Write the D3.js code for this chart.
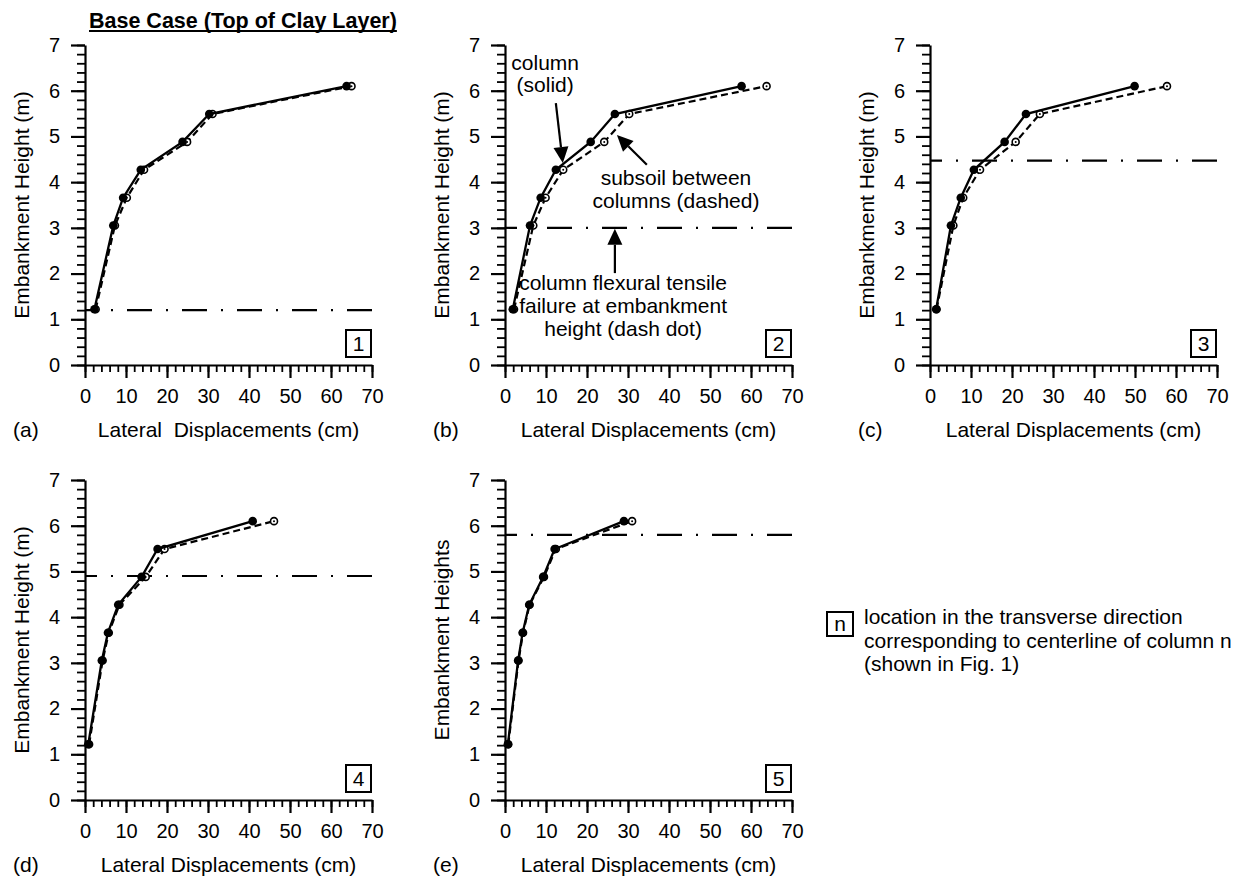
<!DOCTYPE html>
<html>
<head>
<meta charset="utf-8">
<script src="https://cdn.jsdelivr.net/npm/d3@7"></script>
<style>
  html, body { margin: 0; padding: 0; background: #fff; }
  svg text { font-family: "Liberation Sans", Arial, sans-serif; fill: #000; }
</style>
</head>
<body>
<script>
// ---------------- DATA ----------------
const heights = [1.22, 3.05, 3.66, 4.27, 4.88, 5.49, 6.10];   // embankment heights (m)

// lateral displacements (cm) at column (solid) and subsoil between columns (dashed)
const column1  = [2.3, 6.9, 9.3, 13.6, 23.8, 30.3, 63.8];
const subsoil1 = [2.6, 7.3, 10.2, 14.4, 24.9, 31.1, 65.0];
const column2  = [1.9, 6.1, 8.7, 12.4, 20.9, 26.8, 57.7];
const subsoil2 = [2.2, 6.9, 9.9, 14.2, 24.2, 30.3, 63.8];
const column3  = [1.5, 5.1, 7.5, 10.7, 18.2, 23.4, 49.9];
const subsoil3 = [1.6, 5.7, 8.1, 12.2, 20.9, 26.8, 57.8];
const column4  = [0.8, 4.1, 5.6, 8.1, 13.8, 17.7, 40.9];
const subsoil4 = [1.0, 4.3, 5.8, 8.4, 14.8, 19.4, 46.1];
const column5  = [0.7, 3.2, 4.3, 5.9, 9.3, 12.1, 29.0];
const subsoil5 = [0.8, 3.3, 4.4, 6.0, 9.5, 12.4, 31.0];

// embankment height at column flexural tensile failure (dash dot)
const failureHeights = [1.2, 3.0, 4.47, 4.9, 5.8];

const panelLetters  = ["(a)", "(b)", "(c)", "(d)", "(e)"];
const columnNumbers = ["1", "2", "3", "4", "5"];
const yTitles = ["Embankment Height (m)", "Embankment Height (m)", "Embankment Height (m)",
                 "Embankment Height (m)", "Embankment Heights"];
const xTitles = ["Lateral\u00a0 Displacements (cm)", "Lateral Displacements (cm)", "Lateral Displacements (cm)",
                 "Lateral Displacements (cm)", "Lateral Displacements (cm)"];
const xTicks = [0, 10, 20, 30, 40, 50, 60, 70];
const yTicks = [0, 1, 2, 3, 4, 5, 6, 7];
const title = "Base Case (Top of Clay Layer)";
const legendLines = ["location in the transverse direction",
                     "corresponding to centerline of column n",
                     "(shown in Fig. 1)"];

// annotations for panel (b), in data units (cm, m)
const annoTexts = [
  {lines: ["column", "(solid)"], x: 9.8, y: [6.45, 5.97]},
  {lines: ["subsoil between", "columns (dashed)"], x: 41.7, y: [3.94, 3.44]},
  {lines: ["column flexural tensile", "failure at embankment", "height (dash dot)"], x: 28.8, y: [1.64, 1.14, 0.63]}
];
const annoArrows = [
  {from: [12.4, 5.73], to: [14.1, 4.42]},
  {from: [34.6, 4.38], to: [27.3, 5.03]},
  {from: [26.8, 2.01], to: [26.8, 2.98]}
];

// ---------------- LAYOUT ----------------
const columns = [column1, column2, column3, column4, column5];
const subsoils = [subsoil1, subsoil2, subsoil3, subsoil4, subsoil5];
const origins = [[85, 45], [505, 45], [930, 45], [85, 480], [505, 480]];
const W = 287, H = 320;
const FS = 21;

const svg = d3.select("body").append("svg")
  .attr("width", 1241).attr("height", 878);

// title
const t = svg.append("text").attr("x", 89).attr("y", 28)
  .attr("font-size", 21.5).attr("font-weight", "bold").text(title);
const tw = t.node().getComputedTextLength();
svg.append("line").attr("x1", 89).attr("x2", 89 + tw).attr("y1", 31).attr("y2", 31)
  .attr("stroke", "#000").attr("stroke-width", 2);

columns.forEach((colData, i) => {
  const [ox, oy] = origins[i];
  const g = svg.append("g").attr("transform", `translate(${ox},${oy})`);
  const x = d3.scaleLinear().domain([0, 70]).range([0, W]);
  const y = d3.scaleLinear().domain([0, 7]).range([H, 0]);

  // minor ticks
  g.append("g").attr("transform", `translate(0,${H})`)
    .call(d3.axisBottom(x).tickValues(d3.range(0, 71, 2)).tickSize(7).tickSizeOuter(0).tickFormat(""))
    .call(a => a.select(".domain").remove())
    .call(a => a.selectAll("line").attr("stroke-width", 1.8));
  g.append("g")
    .call(d3.axisLeft(y).tickValues(d3.range(0, 36).map(d => d / 5)).tickSize(8).tickSizeOuter(0).tickFormat(""))
    .call(a => a.select(".domain").remove())
    .call(a => a.selectAll("line").attr("stroke-width", 1.8));

  // major axes
  g.append("g").attr("transform", `translate(0,${H})`)
    .call(d3.axisBottom(x).tickValues(xTicks).tickSize(13).tickSizeOuter(0).tickPadding(11).tickFormat(d3.format("d")))
    .call(a => a.attr("font-size", 20).attr("font-family", null))
    .call(a => a.selectAll("line").attr("stroke-width", 2.2))
    .call(a => a.select(".domain").attr("stroke-width", 2.2));
  g.append("g")
    .call(d3.axisLeft(y).tickValues(yTicks).tickSize(14).tickSizeOuter(0).tickPadding(11).tickFormat(d3.format("d")))
    .call(a => a.attr("font-size", 20).attr("font-family", null))
    .call(a => a.selectAll("line").attr("stroke-width", 2.2))
    .call(a => a.select(".domain").attr("stroke-width", 2.2));

  // axis titles
  g.append("text").attr("transform", `translate(-56,${H / 2}) rotate(-90)`)
    .attr("text-anchor", "middle").attr("font-size", FS).text(yTitles[i]);
  g.append("text").attr("x", W / 2).attr("y", H + 72)
    .attr("text-anchor", "middle").attr("font-size", FS).text(xTitles[i]);
  g.append("text").attr("x", -72).attr("y", H + 72)
    .attr("font-size", FS).text(panelLetters[i]);

  // failure height (dash dot)
  g.append("line")
    .attr("x1", x(0)).attr("x2", x(70))
    .attr("y1", y(failureHeights[i])).attr("y2", y(failureHeights[i]))
    .attr("stroke", "#000").attr("stroke-width", 2.2)
    .attr("stroke-dasharray", "25,14,2,14").attr("stroke-dashoffset", 13);

  const line = d3.line().x(d => x(d[0])).y(d => y(d[1]));
  const colPts = colData.map((v, k) => [v, heights[k]]);
  const subPts = subsoils[i].map((v, k) => [v, heights[k]]);

  // subsoil between columns (dashed)
  g.append("path").attr("d", line(subPts)).attr("fill", "none")
    .attr("stroke", "#000").attr("stroke-width", 2.2).attr("stroke-dasharray", "7,4");
  g.selectAll(".spt").data(subPts).enter().append("circle")
    .attr("cx", d => x(d[0])).attr("cy", d => y(d[1])).attr("r", 3.5)
    .attr("fill", "#fff").attr("stroke", "#000").attr("stroke-width", 1.6);
  g.selectAll(".sdot").data(subPts).enter().append("circle")
    .attr("cx", d => x(d[0])).attr("cy", d => y(d[1])).attr("r", 1).attr("fill", "#000");

  // column (solid)
  g.append("path").attr("d", line(colPts)).attr("fill", "none")
    .attr("stroke", "#000").attr("stroke-width", 2.3);
  g.selectAll(".cpt").data(colPts).enter().append("circle")
    .attr("cx", d => x(d[0])).attr("cy", d => y(d[1])).attr("r", 4.3).attr("fill", "#000");

  // column number box
  g.append("rect").attr("x", W - 26).attr("y", H - 35).attr("width", 25).attr("height", 27)
    .attr("fill", "#fff").attr("stroke", "#000").attr("stroke-width", 2);
  g.append("text").attr("x", W - 13.5).attr("y", H - 14).attr("text-anchor", "middle")
    .attr("font-size", FS).text(columnNumbers[i]);

  // annotations (panel b)
  if (i === 1) {
    annoTexts.forEach(a => {
      a.lines.forEach((s, k) => {
        g.append("text").attr("x", x(a.x)).attr("y", y(a.y[k]))
          .attr("text-anchor", "middle").attr("font-size", FS).text(s);
      });
    });
    annoArrows.forEach(a => {
      const x1 = x(a.from[0]), y1 = y(a.from[1]), x2 = x(a.to[0]), y2 = y(a.to[1]);
      const ang = Math.atan2(y2 - y1, x2 - x1);
      const L = 16, hw = 7.5;
      const bx = x2 - L * Math.cos(ang), by = y2 - L * Math.sin(ang);
      g.append("line").attr("x1", x1).attr("y1", y1).attr("x2", bx).attr("y2", by)
        .attr("stroke", "#000").attr("stroke-width", 2.2);
      const px = -Math.sin(ang) * hw, py = Math.cos(ang) * hw;
      g.append("path")
        .attr("d", `M${x2},${y2}L${bx + px},${by + py}L${bx - px},${by - py}Z`)
        .attr("fill", "#000");
    });
  }
});

// legend
svg.append("rect").attr("x", 827).attr("y", 612).attr("width", 26).attr("height", 24)
  .attr("fill", "#fff").attr("stroke", "#000").attr("stroke-width", 2);
svg.append("text").attr("x", 840).attr("y", 631).attr("text-anchor", "middle")
  .attr("font-size", FS).text("n");
legendLines.forEach((s, k) => {
  svg.append("text").attr("x", 864).attr("y", 624 + k * 23.5).attr("font-size", FS).text(s);
});
</script>
</body>
</html>
